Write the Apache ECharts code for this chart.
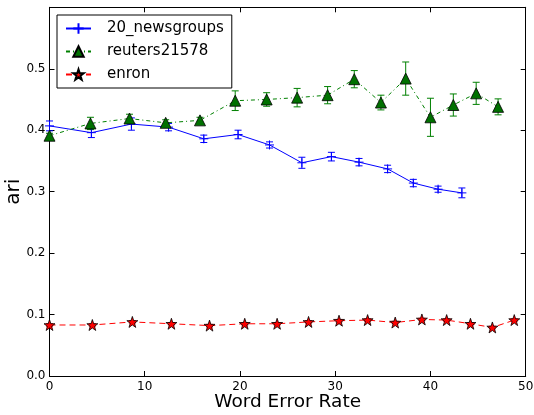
<!DOCTYPE html>
<html>
<head>
<meta charset="utf-8">
<script src="https://cdn.jsdelivr.net/npm/echarts@6/dist/echarts.min.js"></script>
<style>
  html, body { margin: 0; padding: 0; background: #fff; }
  #container { width: 534px; height: 415px; }
</style>
</head>
<body>
<div id="container"></div>
<script>
// word error rate (x) and ari (y) with error half-widths
var newsX = [0, 4.4, 8.6, 12.5, 16.2, 19.8, 23.1, 26.5, 29.6, 32.5, 35.5, 38.2, 40.8, 43.3];
var newsY = [0.407, 0.396, 0.410, 0.405, 0.386, 0.393, 0.376, 0.347, 0.357, 0.348, 0.337, 0.314, 0.304, 0.298];
var newsErr = [0.008, 0.008, 0.010, 0.006, 0.006, 0.007, 0.005, 0.009, 0.007, 0.006, 0.006, 0.006, 0.005, 0.008];

var reutX = [0, 4.3, 8.4, 12.2, 15.8, 19.5, 22.8, 26.0, 29.2, 32.0, 34.8, 37.4, 40.0, 42.4, 44.8, 47.1];
var reutY = [0.391, 0.411, 0.419, 0.412, 0.416, 0.448, 0.450, 0.453, 0.457, 0.483, 0.445, 0.484, 0.421, 0.441, 0.460, 0.438];
var reutErr = [0.004, 0.010, 0.007, 0.005, 0.005, 0.016, 0.011, 0.015, 0.014, 0.014, 0.012, 0.027, 0.031, 0.018, 0.018, 0.013];

var enronX = [0, 4.5, 8.7, 12.8, 16.8, 20.5, 23.9, 27.2, 30.4, 33.4, 36.3, 39.1, 41.7, 44.2, 46.5, 48.8];
var enronY = [0.083, 0.083, 0.088, 0.085, 0.082, 0.085, 0.085, 0.088, 0.090, 0.091, 0.087, 0.092, 0.091, 0.085, 0.079, 0.091];
var enronErr = [0.002, 0.002, 0.002, 0.002, 0.002, 0.002, 0.002, 0.002, 0.002, 0.002, 0.002, 0.002, 0.002, 0.002, 0.002, 0.002];

var xTicks = [0, 10, 20, 30, 40, 50];
var yTicks = [0.0, 0.1, 0.2, 0.3, 0.4, 0.5];

var FONT = 'DejaVu Sans';
var PLUS = 'path://M0,5L10,5M5,0L5,10';
var STAR = 'path://M50,0L61.8,35.3L98.1,35.3L68.8,57.1L79.4,91.5L50,70.6L20.6,91.5L31.2,57.1L1.9,35.3L38.2,35.3Z';

var dom = document.getElementById("container");
var myChart = echarts.init(dom);

var pairs = (xs, ys) => xs.map((x, i) => [x, ys[i]]);
var errData = (xs, ys, es) => xs.map((x, i) => [x, ys[i] - es[i], ys[i] + es[i]]);

var errSeries = (name, xs, ys, es, color) => ({
    type: 'custom',
    name: name,
    z: 3,
    silent: true,
    data: errData(xs, ys, es),
    encode: { x: 0, y: [1, 2] },
    renderItem: function (params, api) {
        var lo = api.coord([api.value(0), api.value(1)]);
        var hi = api.coord([api.value(0), api.value(2)]);
        var w = 3.5;
        var st = { stroke: color, lineWidth: 1 };
        return {
            type: 'group',
            children: [
                { type: 'line', shape: { x1: lo[0], y1: lo[1], x2: hi[0], y2: hi[1] }, style: st },
                { type: 'line', shape: { x1: lo[0] - w, y1: lo[1], x2: lo[0] + w, y2: lo[1] }, style: st },
                { type: 'line', shape: { x1: hi[0] - w, y1: hi[1], x2: hi[0] + w, y2: hi[1] }, style: st }
            ]
        };
    }
});

var tickStyle = { inside: true, length: 5, lineStyle: { color: '#000' } };
var lineAxis = { onZero: false, lineStyle: { color: '#000', width: 1 } };

var option = {
    animation: false,
    textStyle: { fontFamily: FONT },
    grid: { left: 49.5, right: 8.3, top: 7.3, bottom: 39, containLabel: false, outerBoundsMode: 'none' },
    legend: {
        orient: 'vertical',
        left: 57,
        top: 15,
        padding: [5, 8, 5, 8],
        itemGap: 6,
        itemWidth: 25,
        itemHeight: 13,
        backgroundColor: '#fff',
        borderColor: '#000',
        borderWidth: 1,
        borderRadius: 0,
        textStyle: { fontFamily: FONT, fontSize: 15, color: '#000', lineHeight: 17, padding: [0, 0, 0, 11] },
        data: ['20_newsgroups', 'reuters21578', 'enron']
    },
    xAxis: [{
        type: 'value', min: 0, max: 50, interval: 10,
        name: 'Word Error Rate', nameLocation: 'middle', nameGap: 17, nameMoveOverlap: false,
        nameTextStyle: { fontFamily: FONT, fontSize: 18.5, color: '#000' },
        axisLine: lineAxis, axisTick: tickStyle,
        axisLabel: { color: '#000', fontSize: 12, margin: 5, fontFamily: FONT,
            formatter: v => xTicks.indexOf(v) >= 0 ? String(v) : '' },
        splitLine: { show: false }
    }, {
        type: 'value', min: 0, max: 50, interval: 10, position: 'top',
        axisLine: lineAxis, axisTick: tickStyle, axisLabel: { show: false }, splitLine: { show: false }
    }],
    yAxis: [{
        type: 'value', min: 0, max: 0.6, interval: 0.1,
        name: 'ari', nameLocation: 'middle', nameGap: 26, nameRotate: 90, nameMoveOverlap: false,
        nameTextStyle: { fontFamily: FONT, fontSize: 20, color: '#000' },
        axisLine: lineAxis, axisTick: tickStyle,
        axisLabel: { color: '#000', fontSize: 12, margin: 4, fontFamily: FONT,
            formatter: v => {
                var t = yTicks.find(y => Math.abs(y - v) < 1e-9);
                return t === undefined ? '' : t.toFixed(1);
            } },
        splitLine: { show: false }
    }, {
        type: 'value', min: 0, max: 0.6, interval: 0.1, position: 'right',
        axisLine: lineAxis, axisTick: tickStyle, axisLabel: { show: false }, splitLine: { show: false }
    }],
    series: [
        errSeries('news_err', newsX, newsY, newsErr, '#0000ff'),
        errSeries('reut_err', reutX, reutY, reutErr, '#008000'),
        errSeries('enron_err', enronX, enronY, enronErr, '#ff0000'),
        {
            type: 'line', name: '20_newsgroups', z: 4,
            data: pairs(newsX, newsY),
            symbol: PLUS, symbolSize: 9, showAllSymbol: true,
            lineStyle: { color: '#0000ff', width: 1 },
            itemStyle: { color: '#0000ff', borderColor: '#0000ff', borderWidth: 1 }
        },
        {
            type: 'line', name: 'reuters21578', z: 4,
            data: pairs(reutX, reutY),
            symbol: 'triangle', symbolSize: 11, showAllSymbol: true,
            lineStyle: { color: '#008000', width: 1, type: [4, 3, 1, 3] },
            itemStyle: { color: '#007000', borderColor: '#000', borderWidth: 0.8 }
        },
        {
            type: 'line', name: 'enron', z: 4,
            data: pairs(enronX, enronY),
            symbol: STAR, symbolSize: 11, showAllSymbol: true,
            lineStyle: { color: '#ff0000', width: 1, type: [6, 4] },
            itemStyle: { color: '#ff0000', borderColor: '#000', borderWidth: 0.8 }
        }
    ]
};
myChart.setOption(option);
</script>
</body>
</html>
